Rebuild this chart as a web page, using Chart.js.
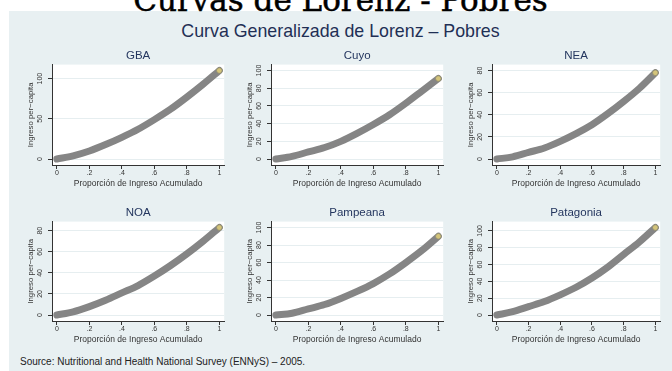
<!DOCTYPE html>
<html><head><meta charset="utf-8">
<script src="https://cdn.jsdelivr.net/npm/chart.js@4/dist/chart.umd.min.js"></script>
<style>
html,body{margin:0;padding:0;background:#fff;width:672px;height:371px;overflow:hidden;position:relative;font-family:"Liberation Sans",Arial,sans-serif;}
#bg{position:absolute;left:9px;top:11px;width:663px;height:360px;background:#e8f0f2;}
#main{position:absolute;left:9px;width:663px;top:-18px;text-align:center;font-family:"DejaVu Serif",serif;font-size:31px;line-height:normal;color:#000;white-space:nowrap;-webkit-text-stroke:0.5px #000;}
#sub{position:absolute;left:9px;width:663px;top:20.5px;text-align:center;font-size:17.8px;line-height:normal;color:#1f2f55;white-space:nowrap;}
#src{position:absolute;left:20px;top:356px;font-size:10px;line-height:normal;color:#222;white-space:nowrap;}
canvas{position:absolute;}
</style></head>
<body>
<div id="bg"></div>
<div id="main">Curvas de Lorenz - Pobres</div>
<div id="sub">Curva Generalizada de Lorenz – Pobres</div>
<div id="src">Source: Nutritional and Health National Survey (ENNyS) – 2005.</div>
<script>
// ---- data ----
const regionNames = ['GBA','Cuyo','NEA','NOA','Pampeana','Patagonia'];
const popShare = [0,0.1,0.2,0.3,0.4,0.5,0.6,0.7,0.8,0.9,1];
const gbaIncome       = [0, 4, 10, 18, 27, 37, 49, 62, 77, 93, 110];
const cuyoIncome      = [0, 3, 8, 13, 20, 29, 39, 50, 63, 77, 91];
const neaIncome       = [0, 2, 6, 10, 16, 23, 31, 41, 52, 64, 78];
const noaIncome       = [0, 3, 8, 14, 21, 28, 37, 47, 58, 70, 83];
const pampeanaIncome  = [0, 2, 7, 12, 19, 27, 36, 47, 60, 74, 90];
const patagoniaIncome = [0, 4, 10, 16, 24, 33, 44, 57, 72, 87, 104];
const gbaTicks       = [0, 50, 100];
const cuyoTicks      = [0, 20, 40, 60, 80, 100];
const neaTicks       = [0, 20, 40, 60, 80];
const noaTicks       = [0, 20, 40, 60, 80];
const pampeanaTicks  = [0, 20, 40, 60, 80, 100];
const patagoniaTicks = [0, 20, 40, 60, 80, 100];
const xTickValues = [0, 0.2, 0.4, 0.6, 0.8, 1];
const xTickLabels = ['0', '.2', '.4', '.6', '.8', '1'];
const xTitle = 'Proporción de Ingreso Acumulado';
const yTitle = 'Ingreso per\u2212capita';

const incomeSeries = [gbaIncome, cuyoIncome, neaIncome, noaIncome, pampeanaIncome, patagoniaIncome];
const tickSeries = [gbaTicks, cuyoTicks, neaTicks, noaTicks, pampeanaTicks, patagoniaTicks];

// ---- layout ----
const COL_L = [52, 271, 492], COL_R = [229, 448, 665];
const ROW_T = [64, 221], ROW_B = [165, 321];
const AXW = 44, TITH = 17, XAH = 26, PADY = 6, PADX = 5;
const AXIS_COLOR = '#333';

Chart.defaults.font.family = '"Liberation Sans", Arial, sans-serif';

const bgPlugin = {
  id: 'plotBg',
  beforeDraw(chart) {
    const {ctx, chartArea: a} = chart;
    ctx.save(); ctx.fillStyle = '#fff';
    ctx.fillRect(a.left, a.top, a.right - a.left, a.bottom - a.top);
    ctx.restore();
  }
};
const rotTicks = {
  id: 'rotTicks',
  afterDraw(chart) {
    const s = chart.scales.y, ctx = chart.ctx;
    ctx.save();
    ctx.font = '7px "Liberation Sans", Arial, sans-serif';
    ctx.fillStyle = AXIS_COLOR; ctx.textAlign = 'center'; ctx.textBaseline = 'middle';
    s.ticks.forEach(t => {
      const y = s.getPixelForValue(t.value);
      ctx.save(); ctx.translate(s.right - 11.5, y); ctx.rotate(-Math.PI / 2);
      ctx.fillText(String(t.value), 0, 0); ctx.restore();
    });
    ctx.restore();
  }
};

regionNames.forEach((name, i) => {
  const c = i % 3, r = Math.floor(i / 3);
  const values = incomeSeries[i], ticks = tickSeries[i];
  const pw = COL_R[c] - COL_L[c], ph = ROW_B[r] - ROW_T[r];
  const cv = document.createElement('canvas');
  cv.width = pw + AXW; cv.height = TITH + ph + XAH;
  cv.style.left = (COL_L[c] - AXW) + 'px'; cv.style.top = (ROW_T[r] - TITH) + 'px';
  document.body.appendChild(cv);
  const hi = Math.max(...values, ...ticks);
  const yppu = (ph - 2 * PADY) / hi;
  const xppu = (pw - 2 * PADX) / 1;
  new Chart(cv, {
    type: 'line',
    data: {datasets: [
      {data: popShare.map((x, k) => ({x, y: values[k]})), borderColor: '#858585', borderWidth: 7,
       pointRadius: 0, cubicInterpolationMode: 'monotone', borderCapStyle: 'round', borderJoinStyle: 'round', fill: false, order: 2},
      {type: 'scatter', data: [{x: popShare[popShare.length - 1], y: values[values.length - 1]}],
       pointRadius: 2.8, backgroundColor: '#d4c47a', borderColor: '#8d8a6e', borderWidth: 0.8, order: 1}
    ]},
    options: {
      responsive: false, animation: false, devicePixelRatio: 1,
      layout: {padding: 0},
      plugins: {
        legend: {display: false}, tooltip: {enabled: false},
        title: {display: true, text: name, fullSize: false, color: '#24365f',
                font: {size: 11.5, weight: 'normal'}, padding: {top: 2, bottom: 1.8}}
      },
      scales: {
        x: {type: 'linear', min: -PADX / xppu, max: 1 + PADX / xppu,
            afterBuildTicks: s => { s.ticks = xTickValues.map(v => ({value: v})); },
            afterFit: s => { s.height = XAH; },
            ticks: {autoSkip: false, maxRotation: 0, minRotation: 0, padding: 0, color: AXIS_COLOR,
                    font: {size: 7}, callback: (v, k) => xTickLabels[k]},
            grid: {drawOnChartArea: false, tickLength: 4, tickColor: AXIS_COLOR},
            border: {color: AXIS_COLOR, width: 1},
            title: {display: true, text: xTitle, color: AXIS_COLOR, font: {size: 8.5}, padding: {top: 0, bottom: 1.9}}},
        y: {type: 'linear', min: -PADY / yppu, max: hi + PADY / yppu,
            afterBuildTicks: s => { s.ticks = ticks.map(v => ({value: v})); },
            afterFit: s => { s.width = AXW; },
            ticks: {display: false},
            grid: {color: '#e6eef0', lineWidth: 1, tickLength: 4, tickColor: AXIS_COLOR},
            border: {color: AXIS_COLOR, width: 1},
            title: {display: true, text: yTitle, color: AXIS_COLOR, font: {size: 7.8}, padding: {top: 18.3, bottom: 0}}}
      }
    },
    plugins: [bgPlugin, rotTicks]
  });
});
</script>
</body></html>
